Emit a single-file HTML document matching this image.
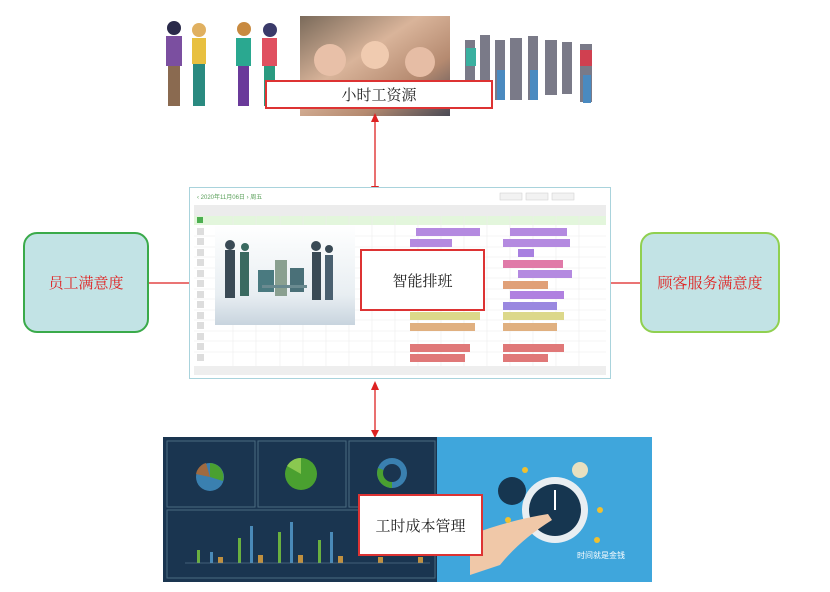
<!DOCTYPE html>
<html><head><meta charset="utf-8"><style>
body{margin:0;width:830px;height:592px;background:#fff;position:relative;overflow:hidden;font-family:"Liberation Serif","Noto Serif CJK SC",serif}
.a{position:absolute}
.lbl{position:absolute;background:#fff;border:2px solid #d33;box-sizing:border-box;display:flex;align-items:center;justify-content:center;font-size:15px;color:#222}
.side{position:absolute;border-radius:14px;background:#c2e3e5;box-sizing:border-box;display:flex;align-items:center;justify-content:center;color:#e02020;font-size:15px}
</style></head><body>
<svg class="a" style="left:0;top:0" width="830" height="592">
<defs>
<linearGradient id="ph" x1="0" y1="0" x2="1" y2="1"><stop offset="0" stop-color="#7a6a5a"/><stop offset=".4" stop-color="#d9b49a"/><stop offset=".7" stop-color="#b58a70"/><stop offset="1" stop-color="#4a4a55"/></linearGradient>
<linearGradient id="sil" x1="0" y1="0" x2="0" y2="1"><stop offset="0" stop-color="#fff"/><stop offset=".7" stop-color="#e8eef2"/><stop offset="1" stop-color="#c8d4de"/></linearGradient>
</defs>
<!-- top cartoon figures -->
<g>
<rect x="166" y="36" width="16" height="30" fill="#7b4fa0"/><rect x="168" y="66" width="12" height="40" fill="#8a6a50"/><circle cx="174" cy="28" r="7" fill="#2a2a4a"/>
<rect x="192" y="38" width="14" height="26" fill="#e8c040"/><rect x="193" y="64" width="12" height="42" fill="#2a8a80"/><circle cx="199" cy="30" r="7" fill="#e0b060"/>
<rect x="236" y="38" width="15" height="28" fill="#2aa890"/><rect x="238" y="66" width="11" height="40" fill="#6a3a9a"/><circle cx="244" cy="29" r="7" fill="#c88a40"/>
<rect x="262" y="38" width="15" height="28" fill="#e05060"/><rect x="264" y="66" width="11" height="40" fill="#2a9a80"/><circle cx="270" cy="30" r="7" fill="#3a3a6a"/>
</g>
<rect x="300" y="16" width="150" height="100" fill="url(#ph)"/>
<circle cx="330" cy="60" r="16" fill="#e8c0a8"/><circle cx="375" cy="55" r="14" fill="#f0cbb0"/><circle cx="420" cy="62" r="15" fill="#e6bda5"/>
<g fill="#7a7a88">
<rect x="465" y="40" width="10" height="50"/><rect x="480" y="35" width="10" height="62"/><rect x="495" y="40" width="10" height="60"/><rect x="510" y="38" width="12" height="62"/><rect x="528" y="36" width="10" height="64"/><rect x="545" y="40" width="12" height="55"/><rect x="562" y="42" width="10" height="52"/><rect x="580" y="44" width="12" height="58"/>
</g>
<g fill="#4a8ac0"><rect x="497" y="70" width="8" height="30"/><rect x="530" y="70" width="8" height="30"/><rect x="583" y="75" width="8" height="28"/></g>
<g fill="#3ab0a0"><rect x="466" y="48" width="10" height="18"/></g>
<g fill="#d04050"><rect x="580" y="50" width="12" height="16"/></g>
<!-- arrows -->
<g stroke="#d22" stroke-width="1.3" fill="#d22">
<line x1="375" y1="116" x2="375" y2="188"/><polygon points="371,122 379,122 375,113" stroke="none"/><polygon points="371,186 379,186 375,194" stroke="none"/>
<line x1="375" y1="384" x2="375" y2="434"/><polygon points="371,390 379,390 375,381" stroke="none"/><polygon points="371,430 379,430 375,438" stroke="none"/>
<line x1="149" y1="283" x2="190" y2="283"/><line x1="610" y1="283" x2="640" y2="283"/>
</g>
<!-- schedule screenshot -->
<rect x="189.5" y="187.5" width="421" height="191" fill="#fff" stroke="#a9d3dc"/>
<text x="197" y="199" font-size="6" fill="#5aa05a" font-family="Liberation Sans">‹ 2020年11月06日 › 周五</text>
<g fill="#f2f2f2" stroke="#ccc" stroke-width=".5"><rect x="500" y="193" width="22" height="7"/><rect x="526" y="193" width="22" height="7"/><rect x="552" y="193" width="22" height="7"/></g>
<rect x="194" y="205" width="412" height="11" fill="#ececec"/>
<rect x="194" y="216" width="412" height="9" fill="#e3f6dc"/>
<rect x="197" y="217" width="6" height="6" fill="#4caf50"/>
<g stroke="#ececec" stroke-width=".6">
<line x1="233" y1="205" x2="233" y2="366"/><line x1="256" y1="205" x2="256" y2="366"/><line x1="280" y1="205" x2="280" y2="366"/><line x1="303" y1="205" x2="303" y2="366"/><line x1="326" y1="205" x2="326" y2="366"/><line x1="349" y1="205" x2="349" y2="366"/><line x1="372" y1="205" x2="372" y2="366"/><line x1="395" y1="205" x2="395" y2="366"/><line x1="418" y1="205" x2="418" y2="366"/><line x1="441" y1="205" x2="441" y2="366"/><line x1="464" y1="205" x2="464" y2="366"/><line x1="487" y1="205" x2="487" y2="366"/><line x1="510" y1="205" x2="510" y2="366"/><line x1="533" y1="205" x2="533" y2="366"/><line x1="556" y1="205" x2="556" y2="366"/><line x1="579" y1="205" x2="579" y2="366"/>
<line x1="194" y1="236" x2="606" y2="236"/><line x1="194" y1="247" x2="606" y2="247"/><line x1="194" y1="257" x2="606" y2="257"/><line x1="194" y1="268" x2="606" y2="268"/><line x1="194" y1="278" x2="606" y2="278"/><line x1="194" y1="289" x2="606" y2="289"/><line x1="194" y1="299" x2="606" y2="299"/><line x1="194" y1="310" x2="606" y2="310"/><line x1="194" y1="320" x2="606" y2="320"/><line x1="194" y1="331" x2="606" y2="331"/><line x1="194" y1="341" x2="606" y2="341"/><line x1="194" y1="352" x2="606" y2="352"/>
</g>
<g fill="#ddd"><rect x="197" y="228" width="7" height="7"/><rect x="197" y="238" width="7" height="7"/><rect x="197" y="249" width="7" height="7"/><rect x="197" y="259" width="7" height="7"/><rect x="197" y="270" width="7" height="7"/><rect x="197" y="280" width="7" height="7"/><rect x="197" y="291" width="7" height="7"/><rect x="197" y="301" width="7" height="7"/><rect x="197" y="312" width="7" height="7"/><rect x="197" y="322" width="7" height="7"/><rect x="197" y="333" width="7" height="7"/><rect x="197" y="343" width="7" height="7"/><rect x="197" y="354" width="7" height="7"/></g>
<g>
<rect x="416" y="228" width="64" height="8" fill="#b48ae0"/><rect x="510" y="228" width="57" height="8" fill="#b48ae0"/>
<rect x="410" y="239" width="42" height="8" fill="#b48ae0"/><rect x="503" y="239" width="67" height="8" fill="#b48ae0"/>
<rect x="518" y="249" width="16" height="8" fill="#a880e0"/>
<rect x="503" y="260" width="60" height="8" fill="#e07aa8"/>
<rect x="518" y="270" width="54" height="8" fill="#b48ae0"/>
<rect x="503" y="281" width="45" height="8" fill="#e0a078"/>
<rect x="510" y="291" width="54" height="8" fill="#b080e0"/>
<rect x="503" y="302" width="54" height="8" fill="#9a88e0"/>
<rect x="410" y="312" width="70" height="8" fill="#dcd88a"/><rect x="503" y="312" width="61" height="8" fill="#dcd88a"/>
<rect x="410" y="323" width="65" height="8" fill="#e0b080"/><rect x="503" y="323" width="54" height="8" fill="#e0b080"/>
<rect x="410" y="344" width="60" height="8" fill="#e07878"/><rect x="503" y="344" width="61" height="8" fill="#e07878"/>
<rect x="410" y="354" width="55" height="8" fill="#e07878"/><rect x="503" y="354" width="45" height="8" fill="#e07878"/>
</g>
<rect x="194" y="366" width="412" height="9" fill="#eeeeee"/>
<!-- silhouettes -->
<rect x="215" y="225" width="140" height="100" fill="url(#sil)"/>
<g fill="#3a4a55">
<rect x="225" y="250" width="10" height="48"/><circle cx="230" cy="245" r="5"/>
<rect x="240" y="252" width="9" height="44" fill="#3a6a60"/><circle cx="245" cy="247" r="4" fill="#3a6a60"/>
<rect x="258" y="270" width="16" height="22" fill="#4a7a80"/><rect x="275" y="260" width="12" height="36" fill="#8aa090"/>
<rect x="290" y="268" width="14" height="24" fill="#4a7078"/>
<rect x="312" y="252" width="9" height="48"/><circle cx="316" cy="246" r="5"/>
<rect x="325" y="255" width="8" height="45" fill="#4a6070"/><circle cx="329" cy="249" r="4"/>
<rect x="262" y="285" width="45" height="3" fill="#6a8a90"/>
</g>
<!-- bottom dashboard -->
<rect x="163" y="437" width="274" height="145" fill="#1a3550"/>
<g fill="none" stroke="#4a6a80" stroke-width="1"><rect x="167" y="441" width="88" height="66"/><rect x="258" y="441" width="88" height="66"/><rect x="349" y="441" width="86" height="66"/><rect x="167" y="510" width="268" height="68"/></g>
<circle cx="210" cy="477" r="14" fill="#3a80b0"/><path d="M210 477 L210 463 A14 14 0 0 1 223 481 Z" fill="#4aa030"/><path d="M210 477 L196 474 A14 14 0 0 1 206 463 Z" fill="#a06a40"/>
<circle cx="301" cy="474" r="16" fill="#4aa030"/><path d="M301 474 L287 466 A16 16 0 0 1 301 458 Z" fill="#8ac850"/>
<circle cx="392" cy="473" r="15" fill="#3a80b0"/><path d="M392 473 L392 488 A15 15 0 0 1 378 468 Z" fill="#4aa030"/><circle cx="392" cy="473" r="9" fill="#1a3550"/>
<g fill="#6ab040"><rect x="197" y="550" width="3" height="13"/><rect x="238" y="538" width="3" height="25"/><rect x="278" y="532" width="3" height="31"/><rect x="318" y="540" width="3" height="23"/></g>
<g fill="#4a8ab8"><rect x="210" y="552" width="3" height="11"/><rect x="250" y="526" width="3" height="37"/><rect x="290" y="522" width="3" height="41"/><rect x="330" y="532" width="3" height="31"/></g>
<g fill="#c09040"><rect x="218" y="557" width="5" height="6"/><rect x="258" y="555" width="5" height="8"/><rect x="298" y="555" width="5" height="8"/><rect x="338" y="556" width="5" height="7"/><rect x="378" y="557" width="5" height="6"/><rect x="418" y="557" width="5" height="6"/></g>
<line x1="185" y1="563" x2="430" y2="563" stroke="#6a8aa0" stroke-width=".6"/>
<rect x="437" y="437" width="215" height="145" fill="#3fa6dc"/>
<circle cx="555" cy="510" r="33" fill="#e8eef2"/><circle cx="555" cy="510" r="26" fill="#163650"/>
<line x1="555" y1="510" x2="555" y2="490" stroke="#fff" stroke-width="2"/>
<path d="M470 535 Q510 520 548 514 L552 520 Q520 540 500 565 L470 575 Z" fill="#f0c8a8"/>
<circle cx="512" cy="491" r="14" fill="#163650"/><circle cx="580" cy="470" r="8" fill="#e8e0c0"/>
<g fill="#f0c030"><circle cx="525" cy="470" r="3"/><circle cx="600" cy="510" r="3"/><circle cx="597" cy="540" r="3"/><circle cx="508" cy="520" r="3"/></g>
<text x="577" y="558" font-size="8" fill="#fff" font-family="Liberation Sans,Noto Sans CJK SC,sans-serif">时间就是金钱</text>
</svg>
<div class="lbl" style="left:265px;top:80px;width:228px;height:29px">小时工资源</div>
<div class="lbl" style="left:360px;top:249px;width:125px;height:62px">智能排班</div>
<div class="lbl" style="left:358px;top:494px;width:125px;height:62px">工时成本管理</div>
<div class="side" style="left:23px;top:232px;width:126px;height:101px;border:2px solid #3aaa4a">员工满意度</div>
<div class="side" style="left:640px;top:232px;width:140px;height:101px;border:2px solid #90d050">顾客服务满意度</div>
</body></html>
